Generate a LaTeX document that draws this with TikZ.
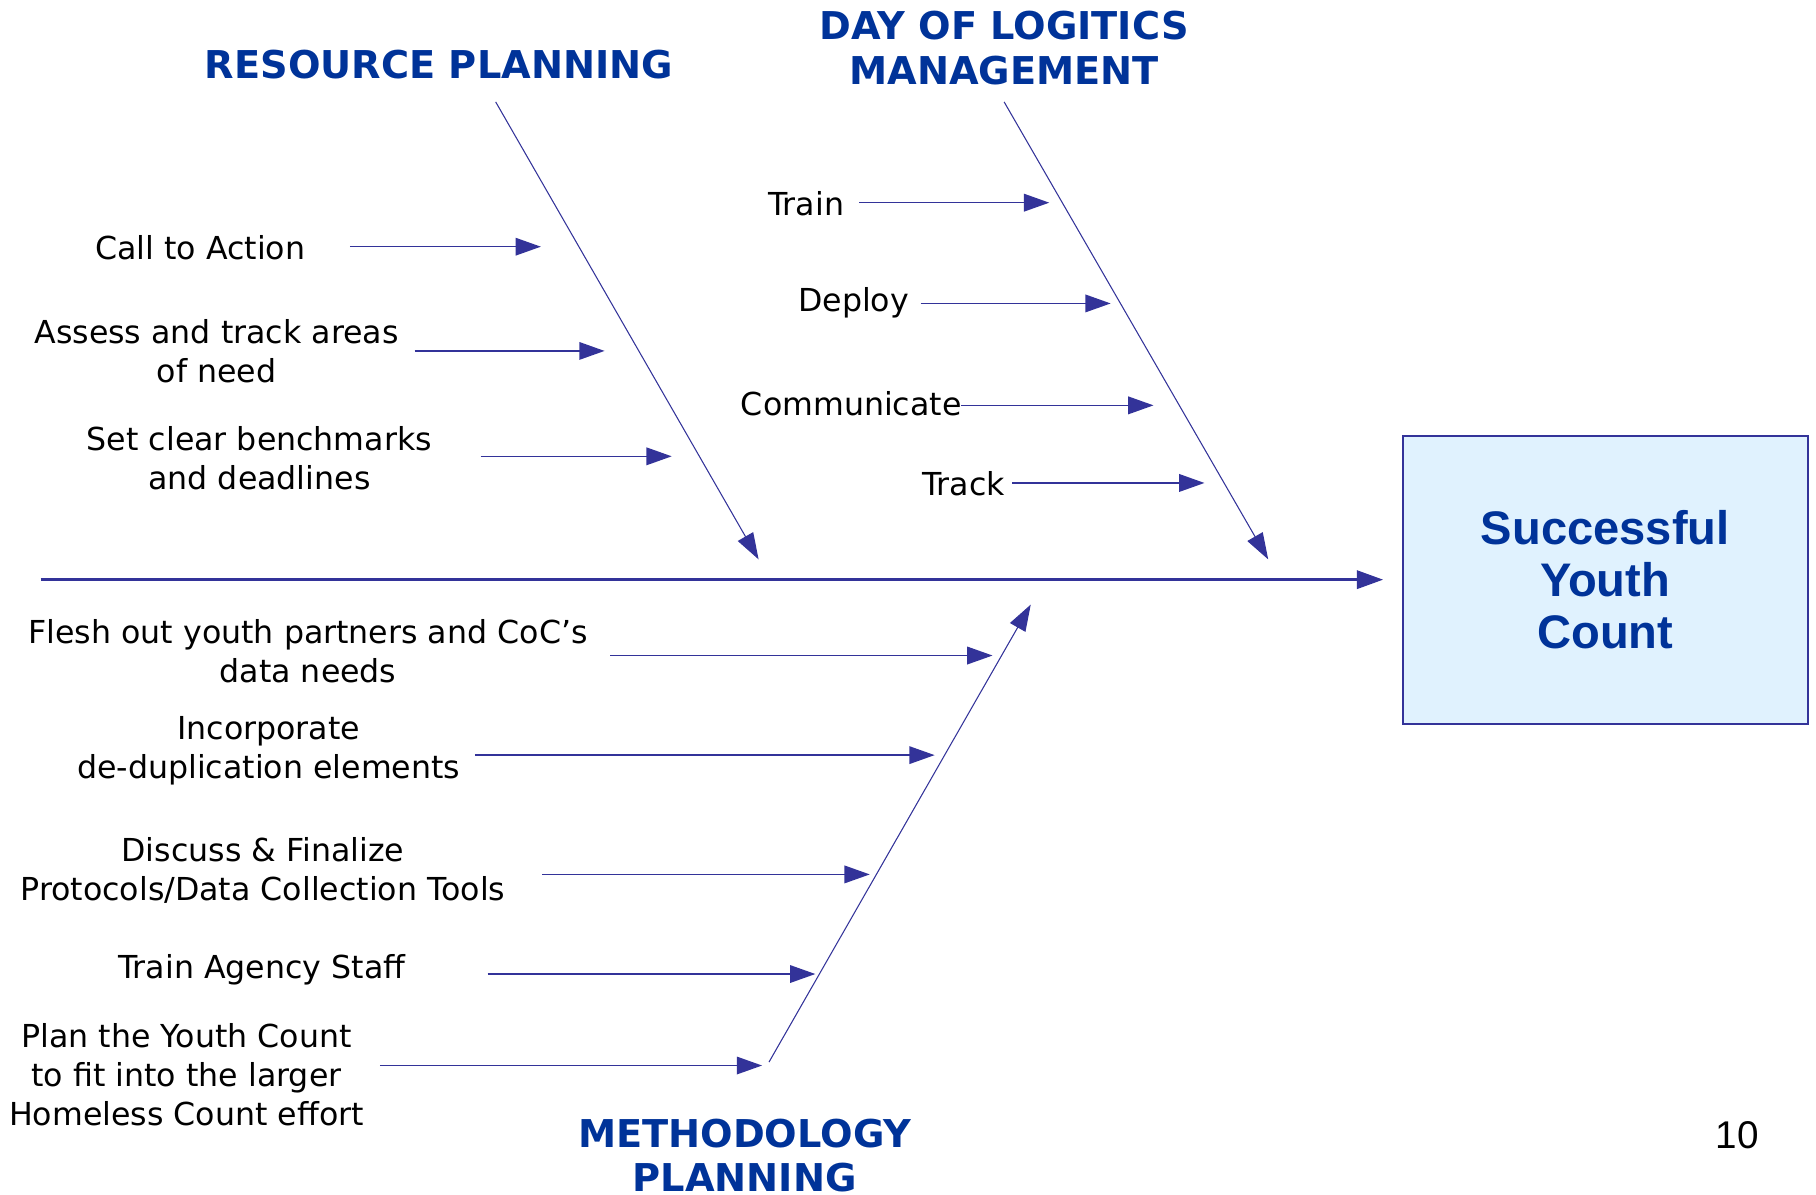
\documentclass[tikz,border=0pt]{standalone}
\usepackage{fontspec}
\setmainfont{DejaVu Sans}
\newfontfamily\arialfont{Liberation Sans}
\usetikzlibrary{arrows.meta,positioning}
\definecolor{bonecol}{HTML}{333399}
\definecolor{headcol}{HTML}{003399}
\definecolor{boxfill}{HTML}{E0F2FE}
\tikzset{
    lbl/.style={align=center, inner sep=0pt, font=\fontsize{9}{11.1}\selectfont},
    head/.style={align=center, inner sep=0pt, text=headcol, font=\fontsize{10.9}{12.6}\selectfont\bfseries},
    bone/.style={draw=bonecol, line width=0.3pt, -{Triangle[length=7.5pt,width=5pt]}},
    twig/.style={draw=bonecol, line width=0.45pt, -{Triangle[length=7.2pt,width=5pt]}},
    spine/.style={draw=bonecol, line width=0.8pt, -{Triangle[length=7.5pt,width=5.2pt]}},
    effect/.style={draw=bonecol, fill=boxfill, line width=0.6pt, align=center, text=headcol,
        minimum width=4.05cm, minimum height=2.88cm, font=\arialfont\fontsize{13.4}{14.8}\selectfont\bfseries}
}
\begin{document}
\begin{tikzpicture}[x=0.011582cm, y=-0.011582cm]
    \useasboundingbox (0,0) rectangle (1568,1031);
    % effect and spine
    \node[effect] (goal) at (1386,500.5) {Successful\\Youth\\Count};
    \coordinate (tail) at (35,500.5);
    \draw[spine, shorten >=0.185cm] (tail) -- (goal.west);
    % resource planning
    \node[head] (rpHead) at (379,56) {RESOURCE PLANNING};
    \coordinate (rpTop) at (428,88);
    \coordinate (rpTip) at (655,483);
    \draw[bone] (rpTop) -- (rpTip);
    \node[lbl] (rp1) at (173,214) {Call to Action};
    \node[lbl] (rp2) at (187,303) {Assess and track areas\\of need};
    \node[lbl] (rp3) at (224,395.5) {Set clear benchmarks\\and deadlines};
    \coordinate (rp1a) at (302,213);
    \coordinate (rp1b) at (467,213);
    \coordinate (rp2a) at (358,303);
    \coordinate (rp2b) at (522,303);
    \coordinate (rp3a) at (415,394);
    \coordinate (rp3b) at (580,394);
    \draw[twig] (rp1a) -- (rp1b);
    \draw[twig] (rp2a) -- (rp2b);
    \draw[twig] (rp3a) -- (rp3b);
    % day of logistics
    \node[head] (dlHead) at (867,41.5) {DAY OF LOGITICS\\MANAGEMENT};
    \coordinate (dlTop) at (867,88);
    \coordinate (dlTip) at (1095,483);
    \draw[bone] (dlTop) -- (dlTip);
    \node[lbl] (dl1) at (696,176) {Train};
    \node[lbl] (dl2) at (737,261) {Deploy};
    \node[lbl] (dl3) at (735,349) {Communicate};
    \node[lbl] (dl4) at (832,418) {Track};
    \coordinate (dl1a) at (742,175);
    \coordinate (dl1b) at (906,175);
    \coordinate (dl2a) at (795,262);
    \coordinate (dl2b) at (959,262);
    \coordinate (dl3a) at (830,350);
    \coordinate (dl3b) at (996,350);
    \coordinate (dl4a) at (874,417);
    \coordinate (dl4b) at (1040,417);
    \draw[twig] (dl1a) -- (dl1b);
    \draw[twig] (dl2a) -- (dl2b);
    \draw[twig] (dl3a) -- (dl3b);
    \draw[twig] (dl4a) -- (dl4b);
    % methodology planning
    \node[head] (mpHead) at (643,998) {METHODOLOGY\\PLANNING};
    \coordinate (mpFoot) at (664,917);
    \coordinate (mpTip) at (890,522);
    \draw[bone] (mpFoot) -- (mpTip);
    \node[lbl] (mp1) at (266,562.5) {Flesh out youth partners and CoC’s\\data needs};
    \node[lbl] (mp2) at (232,648.5) {Incorporate\\de-duplication elements};
    \node[lbl] (mp3) at (227,751.5) {Discuss \& Finalize\\Protocols/Data Collection Tools};
    \node[lbl] (mp4) at (226,837) {Train Agency Staff};
    \node[lbl] (mp5) at (161,928) {Plan the Youth Count\\to fit into the larger\\Homeless Count effort};
    \coordinate (mp1a) at (527,566);
    \coordinate (mp1b) at (857,566);
    \coordinate (mp2a) at (410,652);
    \coordinate (mp2b) at (807,652);
    \coordinate (mp3a) at (468,755);
    \coordinate (mp3b) at (751,755);
    \coordinate (mp4a) at (421,841);
    \coordinate (mp4b) at (704,841);
    \coordinate (mp5a) at (328,920);
    \coordinate (mp5b) at (658,920);
    \draw[twig] (mp1a) -- (mp1b);
    \draw[twig] (mp2a) -- (mp2b);
    \draw[twig] (mp3a) -- (mp3b);
    \draw[twig] (mp4a) -- (mp4b);
    \draw[twig] (mp5a) -- (mp5b);
    % page number
    \node[font=\arialfont\fontsize{11}{13}\selectfont, inner sep=0pt] (pageNo) at (1500,980) {10};
\end{tikzpicture}
\end{document}
